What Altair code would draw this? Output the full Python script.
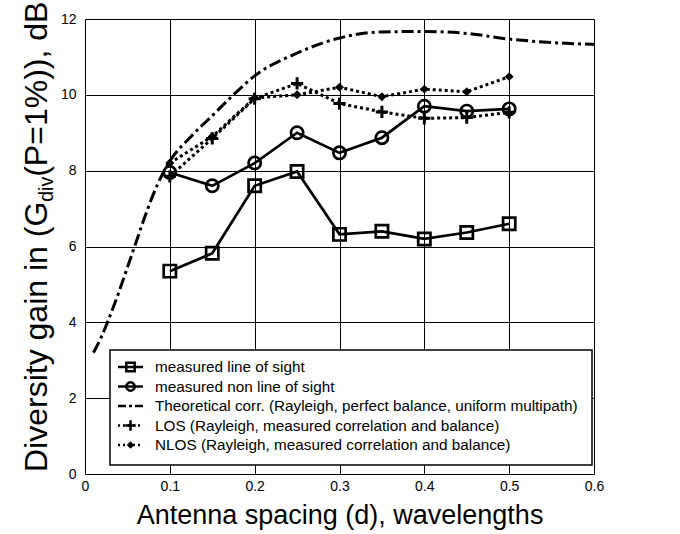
import altair as alt
import pandas as pd

FONT = "Liberation Sans"

# Antenna spacing (wavelengths) at which the measured / simulated points sit
spacing = [0.10, 0.15, 0.20, 0.25, 0.30, 0.35, 0.40, 0.45, 0.50]
meas_los = [5.35, 5.82, 7.60, 7.98, 6.32, 6.40, 6.20, 6.37, 6.60]
meas_nlos = [7.95, 7.60, 8.20, 9.00, 8.47, 8.87, 9.70, 9.57, 9.63]
sim_los = [7.85, 8.85, 9.90, 10.30, 9.77, 9.55, 9.38, 9.40, 9.54]
sim_nlos = [8.20, 8.90, 9.92, 10.00, 10.20, 9.95, 10.15, 10.08, 10.48]

# Theoretical curve (Rayleigh, perfect balance, uniform multipath)
theory_x = [0.01, 0.02, 0.03, 0.04, 0.05, 0.06, 0.07, 0.08, 0.09, 0.10,
            0.125, 0.15, 0.175, 0.20, 0.25, 0.30, 0.35, 0.40, 0.45, 0.50,
            0.55, 0.60]
theory_y = [3.20, 3.65, 4.20, 4.80, 5.45, 6.10, 6.75, 7.35, 7.85, 8.25,
            8.90, 9.45, 10.00, 10.50, 11.10, 11.50, 11.66, 11.67, 11.62,
            11.47, 11.38, 11.33]

x_ticks = [0, 0.1, 0.2, 0.3, 0.4, 0.5, 0.6]
y_ticks = [0, 2, 4, 6, 8, 10, 12]

legend_labels = [
    "measured line of sight",
    "measured non line of sight",
    "Theoretical corr. (Rayleigh, perfect balance, uniform  multipath)",
    "LOS (Rayleigh, measured correlation and balance)",
    "NLOS (Rayleigh, measured correlation and balance)",
]

W, H = 509, 455
CROSS = "M-1,0H1M0,-1V1"
DASHDOT = [12, 4, 3, 4]
DOTTED = [3, 3]

x_enc = alt.X(
    "x:Q",
    scale=alt.Scale(domain=[0, 0.6], nice=False, zero=False),
    axis=alt.Axis(
        values=x_ticks,
        labelExpr="datum.value == 0 ? '0' : format(datum.value, '.1f')",
        title="Antenna spacing (d), wavelengths",
        titleFontSize=27, titleFont=FONT, titleFontWeight="normal",
        titleColor="black", titlePadding=9,
        labelFont=FONT, labelFontSize=14, labelColor="black", labelPadding=5,
        ticks=False, domain=False, grid=True, gridColor="black",
        gridWidth=1, gridOpacity=1, labelFlush=False,
    ),
)
y_enc = alt.Y(
    "y:Q",
    scale=alt.Scale(domain=[0, 12], nice=False),
    axis=alt.Axis(
        values=y_ticks, title="",
        labelFont=FONT, labelFontSize=14, labelColor="black", labelPadding=9,
        ticks=False, domain=False, grid=True, gridColor="black",
        gridWidth=1, gridOpacity=1,
    ),
)


def frame(xs, ys):
    return pd.DataFrame({"x": xs, "y": ys})


d_theory = frame(theory_x, theory_y)
d_meas_los = frame(spacing, meas_los)
d_meas_nlos = frame(spacing, meas_nlos)
d_sim_los = frame(spacing, sim_los)
d_sim_nlos = frame(spacing, sim_nlos)

layers = []

layers.append(alt.Chart(d_theory).mark_line(
    color="black", strokeWidth=3, strokeDash=DASHDOT, interpolate="monotone"
).encode(x=x_enc, y=y_enc))

for d, shape, size, filled in [
    (d_sim_los, CROSS, 150, False),
    (d_sim_nlos, "diamond", 80, True),
]:
    layers.append(alt.Chart(d).mark_line(
        color="black", strokeWidth=3, strokeDash=DOTTED
    ).encode(x="x:Q", y="y:Q"))
    layers.append(alt.Chart(d).mark_point(
        shape=shape, size=size, filled=filled, color="black",
        strokeWidth=3, opacity=1
    ).encode(x="x:Q", y="y:Q"))

for d, shape in [(d_meas_los, "square"), (d_meas_nlos, "circle")]:
    layers.append(alt.Chart(d).mark_line(
        color="black", strokeWidth=2.7
    ).encode(x="x:Q", y="y:Q"))
    layers.append(alt.Chart(d).mark_point(
        shape=shape, size=150, filled=False, color="black",
        strokeWidth=2.7, opacity=1
    ).encode(x="x:Q", y="y:Q"))

# Legend box drawn inside the plot area
one = pd.DataFrame({"k": [0]})
layers.append(alt.Chart(one).mark_rect(
    fill="white", stroke="black", strokeWidth=1.5
).encode(x=alt.value(25), x2=alt.value(507), y=alt.value(331), y2=alt.value(446)))

row_y = [348, 367.5, 387, 406.5, 426]
styles = [
    (None, "square", 70, False),
    (None, "circle", 70, False),
    (DASHDOT, None, 0, False),
    (DOTTED, CROSS, 110, False),
    (DOTTED, "diamond", 55, True),
]
for ry, label, (dash, shape, size, filled) in zip(row_y, legend_labels, styles):
    rule_kw = dict(color="black", strokeWidth=2.5)
    if dash is not None:
        rule_kw["strokeDash"] = [2, 3] if dash == DOTTED else [8, 3, 3, 3]
    layers.append(alt.Chart(one).mark_rule(**rule_kw).encode(
        x=alt.value(33), x2=alt.value(58), y=alt.value(ry)))
    if shape is not None:
        layers.append(alt.Chart(one).mark_point(
            shape=shape, size=size, filled=filled, color="black",
            strokeWidth=2.5, opacity=1
        ).encode(x=alt.value(45.5), y=alt.value(ry)))
    layers.append(alt.Chart(one).mark_text(
        text=label, font=FONT, fontSize=15.3, color="black",
        align="left", baseline="middle"
    ).encode(x=alt.value(70), y=alt.value(ry)))

# Vertical axis title with a subscript, read bottom to top
title_x = -38
main_size, sub_size = 32, 19.5
pieces = [
    ("Diversity gain in (G", main_size, 0, 8.446),
    ("div", sub_size, 6, 1.278),
    ("(P=1%)), dB", main_size, 0, 5.474),
]
pos = 453
for text, size, shift, em in pieces:
    layers.append(alt.Chart(one).mark_text(
        text=text, font=FONT, fontSize=size, color="black",
        align="left", baseline="alphabetic", angle=270
    ).encode(x=alt.value(title_x + shift), y=alt.value(pos)))
    pos -= em * size

chart = alt.layer(*layers).properties(
    width=W, height=H,
    autosize="none",
    padding={"left": 85, "top": 19, "right": 86, "bottom": 60},
).configure_view(
    stroke="black", strokeWidth=1.5
).configure(background="white")

chart.save("out.html", embed_options={"renderer": "svg", "actions": False})
